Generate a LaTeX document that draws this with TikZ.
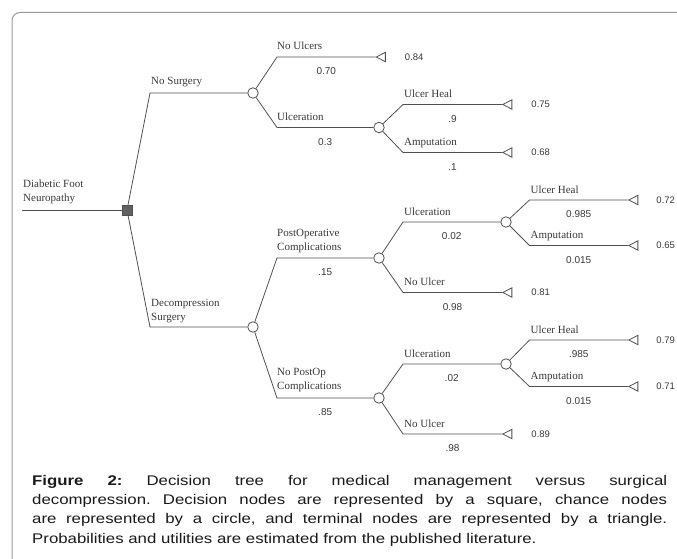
\documentclass[tikz,border=0pt]{standalone}
\usepackage{fontspec}
\setmainfont{Liberation Serif}
\newfontfamily\capfont{Liberation Sans}
\newfontfamily\capwide[FakeStretch=1.2]{Liberation Sans}
\usetikzlibrary{positioning}
\usetikzlibrary{shapes.geometric}
\definecolor{treegray}{HTML}{505050}
\definecolor{framegray}{HTML}{9A9A9A}
\definecolor{labgray}{HTML}{383838}

\begin{document}
\begin{tikzpicture}[x=1pt,y=1pt]
\tikzstyle{every node}+=[inner sep=0pt]
\tikzstyle{edge}=[draw=treegray, line width=0.8pt]
\tikzstyle{decision}=[draw=treegray, fill=treegray!90, minimum size=10pt]
\tikzstyle{chance}=[circle, draw=treegray, fill=white, line width=0.8pt, minimum size=10.5pt]
\tikzstyle{terminal}=[isosceles triangle, shape border rotate=180, isosceles triangle apex angle=55, draw=treegray, fill=white, line width=0.8pt, minimum height=9pt, anchor=apex]
\tikzstyle{lab}=[anchor=base west, align=left, text=labgray, font=\fontsize{11}{14}\selectfont]
\tikzstyle{prob}=[below=10.5pt, text height=7pt, text=labgray, font=\capfont\fontsize{10}{12}\selectfont]
\tikzstyle{val}=[text=labgray, font=\capfont\fontsize{9.5}{12}\selectfont]
\useasboundingbox (0,0) rectangle (677,-559);
\draw [framegray, line width=1pt, rounded corners=8pt] (12,-575) -- (12,-12.5) -- (690,-12.5);
\coordinate (rootS) at (22,-210);
\node [decision] (dec) at (127,-210) {};
\coordinate (nsE) at (150,-93);
\coordinate (dsE) at (150,-327);
\node [chance] (c1) at (253,-93) {};
\node [chance] (c3) at (253,-327) {};
\coordinate (nuE) at (277,-57);
\coordinate (ulE) at (277,-127.5);
\node [terminal] (t1) at (375.5,-57) {};
\node [chance] (c2) at (379,-127.5) {};
\coordinate (uh1E) at (403,-104.5);
\coordinate (am1E) at (403,-152.5);
\node [terminal] (t2) at (502,-104.5) {};
\node [terminal] (t3) at (502,-152.5) {};
\coordinate (poE) at (277,-258);
\coordinate (npE) at (277,-398);
\node [chance] (c4) at (379,-258) {};
\node [chance] (c5) at (379,-398) {};
\coordinate (ul2E) at (403,-222);
\coordinate (nu2E) at (403,-292.5);
\node [chance] (c6) at (506,-222) {};
\node [terminal] (t4) at (502,-292.5) {};
\coordinate (uh2E) at (529.5,-200);
\coordinate (am2E) at (529.5,-245.5);
\node [terminal] (t5) at (628,-200) {};
\node [terminal] (t6) at (628,-245.5) {};
\coordinate (ul3E) at (403,-364);
\coordinate (nu3E) at (403,-434);
\node [chance] (c7) at (506,-364) {};
\node [terminal] (t7) at (502,-434) {};
\coordinate (uh3E) at (529.5,-340);
\coordinate (am3E) at (529.5,-386.5);
\node [terminal] (t8) at (628,-340) {};
\node [terminal] (t9) at (628,-386.5) {};
\draw [edge] (rootS) -- (dec);
\draw [edge] (dec) -- (nsE) -- (c1);
\draw [edge] (dec) -- (dsE) -- (c3);
\draw [edge] (c1) -- (nuE) -- node [prob] (p1) {0.70} (t1);
\draw [edge] (c1) -- (ulE) -- node [prob] (p2) {0.3} (c2);
\draw [edge] (c2) -- (uh1E) -- node [prob] (p3) {.9} (t2);
\draw [edge] (c2) -- (am1E) -- node [prob] (p4) {.1} (t3);
\draw [edge] (c3) -- (poE) -- node [prob] (p5) {.15} (c4);
\draw [edge] (c3) -- (npE) -- node [prob] (p6) {.85} (c5);
\draw [edge] (c4) -- (ul2E) -- node [prob] (p7) {0.02} (c6);
\draw [edge] (c4) -- (nu2E) -- node [prob] (p8) {0.98} (t4);
\draw [edge] (c6) -- (uh2E) -- node [prob] (p9) {0.985} (t5);
\draw [edge] (c6) -- (am2E) -- node [prob] (p10) {0.015} (t6);
\draw [edge] (c5) -- (ul3E) -- node [prob] (p11) {.02} (c7);
\draw [edge] (c5) -- (nu3E) -- node [prob] (p12) {.98} (t7);
\draw [edge] (c7) -- (uh3E) -- node [prob] (p13) {.985} (t8);
\draw [edge] (c7) -- (am3E) -- node [prob] (p14) {0.015} (t9);
\node [lab] (lRoot) at ([shift={(1,9)}]rootS) {Diabetic Foot\\Neuropathy};
\node [lab] (lNs) at ([shift={(1,8)}]nsE) {No Surgery};
\node [lab] (lDs) at ([shift={(1,7)}]dsE) {Decompression\\Surgery};
\node [lab] (lNu) at ([shift={(0,7)}]nuE) {No Ulcers};
\node [lab] (lUl) at ([shift={(0,7)}]ulE) {Ulceration};
\node [lab] (lUh1) at ([shift={(1,7)}]uh1E) {Ulcer Heal};
\node [lab] (lAm1) at ([shift={(1,7)}]am1E) {Amputation};
\node [lab] (lPo) at ([shift={(0,8)}]poE) {PostOperative\\Complications};
\node [lab] (lNp) at ([shift={(0,9)}]npE) {No PostOp\\Complications};
\node [lab] (lUl2) at ([shift={(1,7)}]ul2E) {Ulceration};
\node [lab] (lNu2) at ([shift={(1,7)}]nu2E) {No Ulcer};
\node [lab] (lUh2) at ([shift={(1,7)}]uh2E) {Ulcer Heal};
\node [lab] (lAm2) at ([shift={(1,7)}]am2E) {Amputation};
\node [lab] (lUl3) at ([shift={(1,7)}]ul3E) {Ulceration};
\node [lab] (lNu3) at ([shift={(1,7)}]nu3E) {No Ulcer};
\node [lab] (lUh3) at ([shift={(1,7)}]uh3E) {Ulcer Heal};
\node [lab] (lAm3) at ([shift={(1,7)}]am3E) {Amputation};
\node [val, right=19pt of t1] (v1) {0.84};
\node [val, right=19pt of t2] (v2) {0.75};
\node [val, right=19pt of t3] (v3) {0.68};
\node [val, right=19pt of t4] (v4) {0.81};
\node [val, right=18pt of t5] (v5) {0.72};
\node [val, right=18pt of t6] (v6) {0.65};
\node [val, right=19pt of t7] (v7) {0.89};
\node [val, right=18pt of t8] (v8) {0.79};
\node [val, right=18pt of t9] (v9) {0.71};
\node [anchor=north west, text width=635pt, align=justify, text=black!90, font=\capwide\fontsize{14}{19.3}\selectfont\frenchspacing] (cap) at (32,-475) {\textbf{Figure 2:} Decision tree for medical management versus surgical\linebreak decompression. Decision nodes are represented by a square, chance nodes\linebreak are represented by a circle, and terminal nodes are represented by a triangle.\linebreak Probabilities and utilities are estimated from the published literature.};
\end{tikzpicture}
\end{document}
